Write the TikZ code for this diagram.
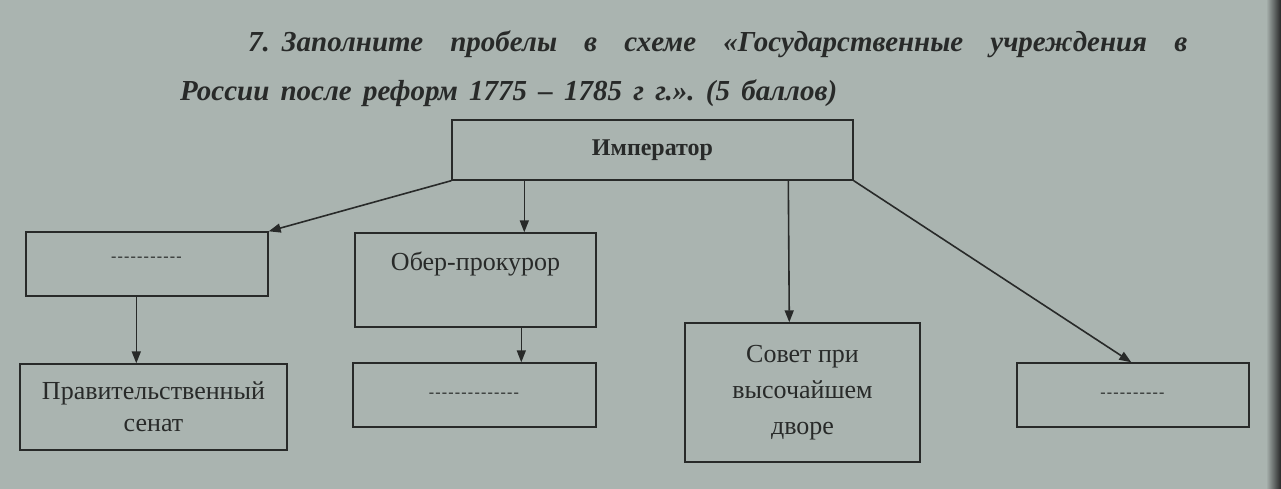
\documentclass[tikz,border=0pt]{standalone}
\usepackage{fontspec}
\setmainfont{Liberation Serif}
\usepackage{graphicx}
\usetikzlibrary{arrows.meta}
\definecolor{paper}{RGB}{170,180,176}
\definecolor{ink}{RGB}{40,42,41}
\definecolor{faint}{RGB}{55,58,57}
\newcommand\ttlfont{\fontsize{29}{33}\selectfont\bfseries\itshape}
\newcommand\hy{-\kern1.2pt}
\frenchspacing
\tikzset{
  box/.style={draw=ink, line width=1.4pt, rectangle, inner sep=0pt, text=ink,
    align=center, font=\fontsize{26}{34}\selectfont},
  arr/.style={draw=ink, line width=1.6pt, -{Triangle[length=12pt,width=9pt]}},
  gapfill/.style={font=\fontsize{16}{20}\selectfont\bfseries, text=faint}
}
\begin{document}
\pgfmathsetmacro\xs{1.0}
\pgfmathsetmacro\wone{939/\xs}
\pgfmathsetmacro\wtwo{657/\xs}
\begin{tikzpicture}[x=1pt,y=-1pt]
\fill[paper] (0,0) rectangle (1281,489);
\shade[left color=paper, right color=black!85] (1266,0) rectangle (1281,489);
\useasboundingbox (0,0) rectangle (1281,489);
% title
\node[anchor=base west, inner sep=0pt, text=ink] (t1) at (248,52)
  {\ttlfont\scalebox{\xs}[1]{\makebox[\wone pt][s]{7.\hspace{12pt}Заполните\hfill пробелы\hfill в\hfill схеме\hfill «Государственные\hfill учреждения\hfill в}}};
\node[anchor=base west, inner sep=0pt, text=ink] (t2) at (180,101)
  {\ttlfont\scalebox{\xs}[1]{\makebox[\wtwo pt][s]{России после реформ 1775 – 1785 г г.». (5 баллов)}}};
% boxes
\node[box, minimum width=401pt, minimum height=60pt, font=\fontsize{24}{26}\selectfont\bfseries] (imp) at (652.5,150) {Император};
\node[box, minimum width=242pt, minimum height=64pt, gapfill, text height=10pt, text depth=16pt] (b1) at (147,264) {\hy\hy\hy\hy\hy\hy\hy\hy\hy\hy\hy};
\node[box, minimum width=241pt, minimum height=94pt, text height=18pt, text depth=38pt] (ober) at (475.5,280) {Обер-прокурор};
\node[box, minimum width=267pt, minimum height=86pt, font=\fontsize{26}{32}\selectfont] (senate) at (153.5,407) {Правительственный\\сенат};
\node[box, minimum width=243pt, minimum height=64pt, gapfill] (b2) at (474.5,395) {\hy\hy\hy\hy\hy\hy\hy\hy\hy\hy\hy\hy\hy\hy};
\node[box, minimum width=235pt, minimum height=139pt, font=\fontsize{26}{36}\selectfont] (sovet) at (802.5,392.5) {Совет при\\высочайшем\\дворе};
\node[box, minimum width=232pt, minimum height=64pt, gapfill] (b3) at (1133,395) {\hy\hy\hy\hy\hy\hy\hy\hy\hy\hy};
% connectors
\draw[arr] (imp.south west) -- (b1.north east);
\draw[arr] ([xshift=73pt]imp.south west) -- ([xshift=170pt]ober.north west);
\draw[arr] ([xshift=337pt]imp.south west) -- ([xshift=105pt]sovet.north west);
\draw[arr] (imp.south east) -- ([xshift=115pt]b3.north west);
\draw[arr] ([xshift=111pt]b1.south west) -- ([xshift=117pt]senate.north west);
\draw[arr] ([xshift=167pt]ober.south west) -- ([xshift=169pt]b2.north west);
\end{tikzpicture}
\end{document}
